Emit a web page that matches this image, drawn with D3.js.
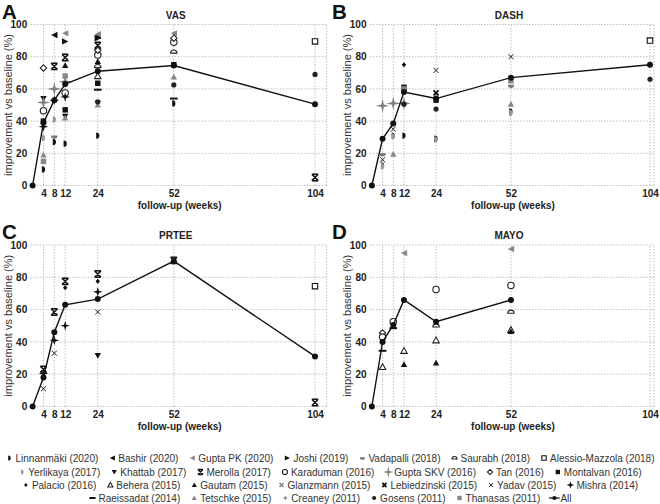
<!DOCTYPE html>
<html><head><meta charset="utf-8">
<script src="https://cdn.jsdelivr.net/npm/d3@7/dist/d3.min.js"></script>
<style>
body{margin:0;background:#fff}
svg{display:block}
text{font-family:"Liberation Sans",Arial,sans-serif}
</style>
</head><body>
<svg id="chart" width="660" height="504"></svg>
<script>
// ---------------- DATA ----------------
const weekTicks = [4, 8, 12, 24, 52, 104];
const yTicks = [0, 20, 40, 60, 80, 100];
const panelTitles = ["VAS", "DASH", "PRTEE", "MAYO"];
const panelLetters = ["A", "B", "C", "D"];
const xAxisTitle = "follow-up (weeks)";
const yAxisTitle = "improvement vs baseline (%)";

const legendRows = [
  ["Linnanmäki (2020)", "Bashir (2020)", "Gupta PK (2020)", "Joshi (2019)", "Vadapalli (2018)", "Saurabh (2018)", "Alessio-Mazzola (2018)"],
  ["Yerlikaya (2017)", "Khattab (2017)", "Merolla (2017)", "Karaduman (2016)", "Gupta SKV (2016)", "Tan (2016)", "Montalvan (2016)"],
  ["Palacio (2016)", "Behera (2015)", "Gautam (2015)", "Glanzmann (2015)", "Lebiedzinski (2015)", "Yadav (2015)", "Mishra (2014)"],
  ["Raeissadat (2014)", "Tetschke (2015)", "Creaney (2011)", "Gosens (2011)", "Thanasas (2011)", "All"]
];

// pooled "All" curves: [week, % improvement]
const allVAS   = [[0,0],[4,39],[8,53],[12,63],[24,71],[52,74.5],[104,50.5]];
const allDASH  = [[0,0],[4,29],[8,38.5],[12,58],[24,54],[52,67],[104,75]];
const allPRTEE = [[0,0],[4,18],[8,46],[12,63],[24,66.5],[52,90],[104,31]];
const allMAYO  = [[0,0],[4,40],[8,50.5],[12,66],[24,52.5],[52,66]];

// individual study points: [study, week, % improvement]
const vasPoints = [
  ["Linnanmäki (2020)",4,10],["Linnanmäki (2020)",8,27],["Linnanmäki (2020)",12,26],["Linnanmäki (2020)",24,31],["Linnanmäki (2020)",52,51],
  ["Bashir (2020)",8,93.5],["Bashir (2020)",24,93],
  ["Gupta PK (2020)",12,94.5],["Gupta PK (2020)",24,94],["Gupta PK (2020)",52,94.5],
  ["Joshi (2019)",12,89.5],["Joshi (2019)",24,91.5],
  ["Vadapalli (2018)",8,30.5],
  ["Saurabh (2018)",24,74],["Saurabh (2018)",52,83],
  ["Alessio-Mazzola (2018)",104,89.5],
  ["Yerlikaya (2017)",4,29.5],["Yerlikaya (2017)",8,41],
  ["Khattab (2017)",4,54],["Khattab (2017)",12,43],["Khattab (2017)",24,51],
  ["Merolla (2017)",8,74],["Merolla (2017)",12,79.5],["Merolla (2017)",24,87],["Merolla (2017)",104,5],
  ["Karaduman (2016)",4,46.5],["Karaduman (2016)",12,57.5],["Karaduman (2016)",24,81],["Karaduman (2016)",52,89],
  ["Gupta SKV (2016)",4,51.5],["Gupta SKV (2016)",8,60],["Gupta SKV (2016)",12,64.5],
  ["Tan (2016)",4,73],["Tan (2016)",24,84],["Tan (2016)",52,91.5],
  ["Montalvan (2016)",4,40],["Montalvan (2016)",12,47],["Montalvan (2016)",24,63.5],["Montalvan (2016)",52,75],
  ["Behera (2015)",24,68],
  ["Gautam (2015)",12,74.5],["Gautam (2015)",24,77],
  ["Mishra (2014)",4,36.5],["Mishra (2014)",8,53],["Mishra (2014)",12,55],
  ["Raeissadat (2014)",24,59.5],["Raeissadat (2014)",52,54],
  ["Tetschke (2015)",4,19],["Tetschke (2015)",12,42],["Tetschke (2015)",24,50],["Tetschke (2015)",52,67.5],
  ["Gosens (2011)",24,52],["Gosens (2011)",52,62.5],["Gosens (2011)",104,69],
  ["Thanasas (2011)",4,15],["Thanasas (2011)",12,68]
];
const dashPoints = [
  ["Linnanmäki (2020)",4,12.5],["Linnanmäki (2020)",8,31],["Linnanmäki (2020)",12,31],["Linnanmäki (2020)",24,29],["Linnanmäki (2020)",52,46],
  ["Yerlikaya (2017)",4,12],["Yerlikaya (2017)",8,30.5],["Yerlikaya (2017)",24,28.5],["Yerlikaya (2017)",52,45],
  ["Vadapalli (2018)",4,19.5],["Vadapalli (2018)",52,62],
  ["Yadav (2015)",4,16],["Yadav (2015)",8,35],["Yadav (2015)",24,71.5],["Yadav (2015)",52,80],
  ["Lebiedzinski (2015)",24,57.5],
  ["Gupta SKV (2016)",4,49.5],["Gupta SKV (2016)",8,51],["Gupta SKV (2016)",12,51],
  ["Tetschke (2015)",8,19.5],["Tetschke (2015)",52,50.5],
  ["Palacio (2016)",12,75],
  ["Montalvan (2016)",12,61],["Montalvan (2016)",24,53],
  ["Thanasas (2011)",12,60],["Thanasas (2011)",52,65],
  ["Gosens (2011)",12,50.5],["Gosens (2011)",24,47.5],["Gosens (2011)",104,66],
  ["Alessio-Mazzola (2018)",104,90]
];
const prteePoints = [
  ["Merolla (2017)",4,23],["Merolla (2017)",8,58.5],["Merolla (2017)",12,77.5],["Merolla (2017)",24,82],["Merolla (2017)",52,90.5],["Merolla (2017)",104,2.5],
  ["Mishra (2014)",4,20.5],["Mishra (2014)",8,41],["Mishra (2014)",12,50],["Mishra (2014)",24,71],
  ["Yadav (2015)",4,11],["Yadav (2015)",8,33],["Yadav (2015)",24,58.5],
  ["Palacio (2016)",12,73.5],["Palacio (2016)",24,77.5],
  ["Khattab (2017)",24,31.5],
  ["Alessio-Mazzola (2018)",104,74.5]
];
const mayoPoints = [
  ["Tan (2016)",4,45.5],
  ["Karaduman (2016)",4,43],["Karaduman (2016)",8,52.5],["Karaduman (2016)",24,72.5],["Karaduman (2016)",52,75],
  ["Raeissadat (2014)",4,34.5],["Raeissadat (2014)",8,48.5],
  ["Behera (2015)",4,24.5],["Behera (2015)",12,34.5],["Behera (2015)",24,41],["Behera (2015)",52,47.5],
  ["Gautam (2015)",12,26],["Gautam (2015)",24,27],["Gautam (2015)",52,46.5],
  ["Gupta PK (2020)",12,95],["Gupta PK (2020)",52,97.5],
  ["Saurabh (2018)",24,50],["Saurabh (2018)",52,58.5]
];

// ---------------- STYLES ----------------
const markerStyle = {
  "Linnanmäki (2020)": {shape:"dR", fill:"#111"},
  "Bashir (2020)": {shape:"triL", fill:"#111"},
  "Gupta PK (2020)": {shape:"triL", fill:"#888"},
  "Joshi (2019)": {shape:"triR", fill:"#111"},
  "Vadapalli (2018)": {shape:"bowl", fill:"#777"},
  "Saurabh (2018)": {shape:"dome", fill:"#fff", stroke:"#222"},
  "Alessio-Mazzola (2018)": {shape:"square", fill:"#fff", stroke:"#111"},
  "Yerlikaya (2017)": {shape:"dR", fill:"#999"},
  "Khattab (2017)": {shape:"triD", fill:"#111"},
  "Merolla (2017)": {shape:"xbar", stroke:"#111"},
  "Karaduman (2016)": {shape:"circle", fill:"#fff", stroke:"#222"},
  "Gupta SKV (2016)": {shape:"starBig", fill:"#808080"},
  "Tan (2016)": {shape:"diamond", fill:"#fff", stroke:"#222"},
  "Montalvan (2016)": {shape:"square", fill:"#111"},
  "Palacio (2016)": {shape:"diamondS", fill:"#111"},
  "Behera (2015)": {shape:"triU", fill:"#fff", stroke:"#222"},
  "Gautam (2015)": {shape:"triU", fill:"#111"},
  "Glanzmann (2015)": {shape:"x", stroke:"#888", w:1.6},
  "Lebiedzinski (2015)": {shape:"x", stroke:"#111", w:1.8},
  "Yadav (2015)": {shape:"x", stroke:"#222", w:1},
  "Mishra (2014)": {shape:"star", fill:"#111"},
  "Raeissadat (2014)": {shape:"dash", stroke:"#111"},
  "Tetschke (2015)": {shape:"triU", fill:"#888"},
  "Creaney (2011)": {shape:"starS", fill:"#888"},
  "Gosens (2011)": {shape:"circle", fill:"#222", r:2.6},
  "Thanasas (2011)": {shape:"square", fill:"#888"},
  "All": {shape:"all"}
};

function markerPath(shape, r) {
  switch (shape) {
    case "dR": return `M${-0.5*r},${-r}A${r},${r} 0 0 1 ${-0.5*r},${r}Z`;
    case "triL": return `M${r},${-r}L${-r},0L${r},${r}Z`;
    case "triR": return `M${-r},${-r}L${r},0L${-r},${r}Z`;
    case "triU": return `M0,${-r}L${r},${0.8*r}L${-r},${0.8*r}Z`;
    case "triD": return `M0,${r}L${r},${-0.8*r}L${-r},${-0.8*r}Z`;
    case "bowl": return `M${-r},${-0.3*r}A${r},${r} 0 0 0 ${r},${-0.3*r}Z`;
    case "dome": return `M${-r},${0.4*r}A${r},${r} 0 0 1 ${r},${0.4*r}Z`;
    case "square": return `M${-r*0.85},${-r*0.85}h${1.7*r}v${1.7*r}h${-1.7*r}Z`;
    case "diamond": return `M0,${-r}L${r},0L0,${r}L${-r},0Z`;
    case "diamondS": return `M0,${-0.8*r}L${0.7*r},0L0,${0.8*r}L${-0.7*r},0Z`;
    case "x": return `M${-r*0.8},${-r*0.8}L${r*0.8},${r*0.8}M${r*0.8},${-r*0.8}L${-r*0.8},${r*0.8}`;
    case "xbar": return `M${-r},${-r}L${r},${r}M${r},${-r}L${-r},${r}M${-r},${-r}H${r}M${-r},${r}H${r}`;
    case "dash": return `M${-r*1.2},0H${r*1.2}`;
    case "star": { const R = r*1.5, a = r*0.35; return `M0,${-R}L${a},${-a}L${R},0L${a},${a}L0,${R}L${-a},${a}L${-R},0L${-a},${-a}Z`; }
    case "starBig": { const R = r*2.1, a = r*0.4; return `M0,${-R}L${a},${-a}L${R},0L${a},${a}L0,${R}L${-a},${a}L${-R},0L${-a},${-a}Z`; }
    case "starS": { const R = r*1.1, a = r*0.3; return `M0,${-R}L${a},${-a}L${R},0L${a},${a}L0,${R}L${-a},${a}L${-R},0L${-a},${-a}Z`; }
    case "circle": return `M${r},0A${r},${r} 0 1 1 ${-r},0A${r},${r} 0 1 1 ${r},0Z`;
  }
  return "";
}

function drawMarker(sel, study, cx, cy, scale) {
  const st = markerStyle[study];
  const r = (st.r || 3.2) * scale;
  const g = sel.append("g").attr("transform", `translate(${cx},${cy})`);
  if (st.shape === "all") {
    g.append("line").attr("x1", -7*scale).attr("x2", 7*scale).attr("stroke", "#111").attr("stroke-width", 1.3);
    g.append("circle").attr("r", 2.8*scale).attr("fill", "#111");
    return;
  }
  const lineOnly = ["x", "xbar", "dash"].includes(st.shape);
  g.append("path").attr("d", markerPath(st.shape, r))
    .attr("fill", lineOnly ? "none" : (st.fill || "none"))
    .attr("stroke", lineOnly ? st.stroke : (st.stroke || "none"))
    .attr("stroke-width", lineOnly ? (st.w || (st.shape === "dash" ? 2 : 1.5)) : 1.1);
}

// ---------------- LAYOUT ----------------
const svg = d3.select("#chart");
const panels = [
  {title: panelTitles[0], letter: panelLetters[0], all: allVAS,   pts: vasPoints,   xd:[-0.7,108.3], xr:[30.7,326.7], yr:[185.5,24.5], letterPos:[2,19]},
  {title: panelTitles[1], letter: panelLetters[1], all: allDASH,  pts: dashPoints,  xd:[-0.7,105.5], xr:[370,654],    yr:[185.5,24.5], letterPos:[332,19]},
  {title: panelTitles[2], letter: panelLetters[2], all: allPRTEE, pts: prteePoints, xd:[-0.7,108.3], xr:[30.7,326.7], yr:[406.5,245],  letterPos:[2,239]},
  {title: panelTitles[3], letter: panelLetters[3], all: allMAYO,  pts: mayoPoints,  xd:[-0.7,105.5], xr:[370,654],    yr:[406.5,245],  letterPos:[332,239]}
];

panels.forEach(p => {
  const x = d3.scaleLinear().domain(p.xd).range(p.xr);
  const y = d3.scaleLinear().domain([0,100]).range(p.yr);
  const g = svg.append("g");
  const grid = g.append("g").attr("stroke", "#b0b0b0").attr("stroke-dasharray", "1.5,1.5").attr("stroke-width", 0.8);
  yTicks.forEach(t => grid.append("line").attr("x1", p.xr[0]).attr("x2", p.xr[1]).attr("y1", y(t)).attr("y2", y(t)));
  weekTicks.forEach(t => grid.append("line").attr("x1", x(t)).attr("x2", x(t)).attr("y1", y(0)).attr("y2", y(100)));
  grid.append("line").attr("x1", p.xr[1]).attr("x2", p.xr[1]).attr("y1", y(0)).attr("y2", y(100));

  const ya = g.append("g").attr("transform", `translate(${p.xr[0]},0)`)
    .call(d3.axisLeft(y).tickValues(yTicks).tickSize(0).tickPadding(3.5));
  ya.select(".domain").remove();
  ya.selectAll("text").attr("font-size", 10).attr("font-weight", "bold").attr("fill", "#222").attr("font-family", "Liberation Sans, Arial, sans-serif");

  const xa = g.append("g").attr("transform", `translate(0,${p.yr[0]})`)
    .call(d3.axisBottom(x).tickValues(weekTicks).tickSize(0).tickPadding(4));
  xa.select(".domain").remove();
  xa.selectAll("text").attr("font-size", 10).attr("font-weight", "bold").attr("fill", "#222").attr("font-family", "Liberation Sans, Arial, sans-serif");

  const midY = (p.yr[0] + p.yr[1]) / 2;
  g.append("text").attr("transform", `translate(${p.xr[0]-23},${midY}) rotate(-90)`)
    .attr("text-anchor", "middle").attr("dy", "0.35em").attr("font-size", 11).attr("fill", "#333").text(yAxisTitle);
  g.append("text").attr("x", (p.xr[0] + p.xr[1]) / 2 + 1).attr("y", p.yr[0] + 23)
    .attr("text-anchor", "middle").attr("font-size", 10).attr("font-weight", "bold").attr("fill", "#222").text(xAxisTitle);
  g.append("text").attr("x", (p.xr[0] + p.xr[1]) / 2 - 3).attr("y", p.yr[1] - 6)
    .attr("text-anchor", "middle").attr("font-size", 10).attr("font-weight", "bold").attr("fill", "#222").text(p.title);
  g.append("text").attr("x", p.letterPos[0]).attr("y", p.letterPos[1])
    .attr("font-size", 20.5).attr("font-weight", "bold").attr("fill", "#111").text(p.letter);

  const mk = g.append("g");
  p.pts.forEach(d => drawMarker(mk, d[0], x(d[1]), y(d[2]), 1));

  g.append("path").datum(p.all)
    .attr("d", d3.line().x(d => x(d[0])).y(d => y(d[1])))
    .attr("fill", "none").attr("stroke", "#111").attr("stroke-width", 1.4);
  g.append("g").selectAll("circle").data(p.all).join("circle")
    .attr("cx", d => x(d[0])).attr("cy", d => y(d[1])).attr("r", 3).attr("fill", "#111");
});

// ---------------- LEGEND ----------------
const legendY = [458, 472, 485, 498];
const legFont = 10, txtOff = 6, itemGap = 10;
legendRows.forEach((row, ri) => {
  const lg = svg.append("g");
  const items = row.map(name => {
    const ig = lg.append("g");
    const t = ig.append("text").attr("x", txtOff).attr("y", 0).attr("dy", "0.35em")
      .attr("font-size", legFont).attr("fill", "#333").text(name);
    return {name, ig, w: t.node().getComputedTextLength()};
  });
  const total = d3.sum(items, d => d.w + txtOff + 4) + itemGap * (items.length - 1);
  let cx = 330 - total / 2 + 4;
  items.forEach(it => {
    it.ig.attr("transform", `translate(${cx},${legendY[ri]})`);
    drawMarker(it.ig, it.name, 0, 0, it.name === "All" ? 0.75 : 0.8);
    cx += it.w + txtOff + 4 + itemGap;
  });
});
</script>
</body></html>
